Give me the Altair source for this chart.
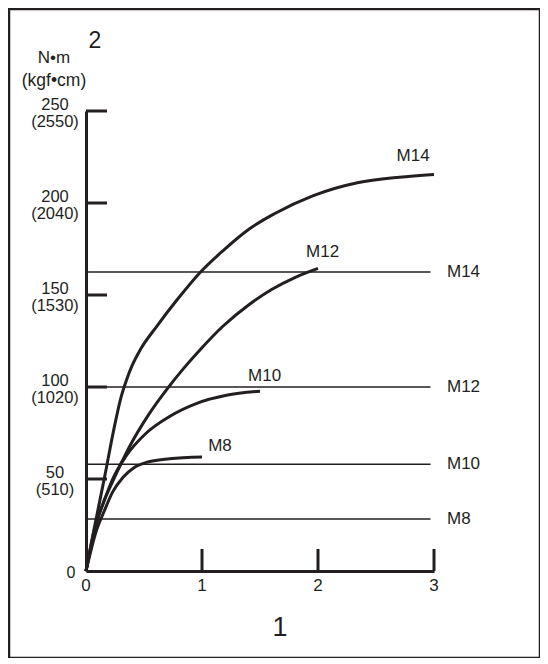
import altair as alt
import pandas as pd

INK = "#231f20"
FONT = "Liberation Sans"

# Curves (x: 1, y: 2 in N·m)
m8_x = [0, 0.08, 0.16, 0.23, 0.32, 0.41, 0.52, 0.72, 1.00]
m8_y = [0, 20, 33, 43, 51, 56, 59, 61, 62]
m10_x = [0, 0.07, 0.15, 0.23, 0.34, 0.52, 0.72, 0.95, 1.21, 1.50]
m10_y = [0, 22, 37, 50, 62, 75, 84, 91, 95.5, 97.7]
m12_x = [0, 0.10, 0.24, 0.37, 0.54, 0.70, 0.84, 0.98, 1.18, 1.41, 1.60, 1.80, 2.00]
m12_y = [0, 28, 50, 67, 85, 99, 110, 120, 133, 145, 153, 159.5, 164.5]
m14_x = [0, 0.08, 0.16, 0.24, 0.30, 0.35, 0.40, 0.47, 0.61, 0.78, 0.98, 1.18, 1.41,
         1.62, 1.96, 2.34, 2.70, 3.00]
m14_y = [0, 26, 51, 77, 94, 104, 112, 120.5, 133, 147, 162, 174, 186,
         194, 204, 211, 214, 215.5]

# Horizontal reference levels
level_names = ["M14", "M12", "M10", "M8"]
level_values = [162.5, 100, 58, 28.3]
level_x_end = 2.97

# Curve end labels
curve_label_names = ["M14", "M12", "M10", "M8"]
curve_label_x = [2.82, 2.04, 1.54, 1.155]
curve_label_y = [225.5, 173.4, 106, 68]

# Axis ticks / labels
y_ticks_nm = [50, 100, 150, 200, 250]
y_ticks_kgf = [510, 1020, 1530, 2040, 2550]
x_ticks = [1, 2, 3]
x_tick_labels = ["0", "1", "2", "3"]
x_tick_label_pos = [0, 1, 2, 3]

series = []
for name, xs_, ys_ in [("M8", m8_x, m8_y), ("M10", m10_x, m10_y),
                       ("M12", m12_x, m12_y), ("M14", m14_x, m14_y)]:
    for i, (a, b) in enumerate(zip(xs_, ys_)):
        series.append({"s": name, "x": a, "y": b, "o": i})
curves_df = pd.DataFrame(series)

levels_df = pd.DataFrame({"name": level_names, "y": level_values,
                          "x0": [0] * 4, "x1": [level_x_end] * 4,
                          "xl": [3.0] * 4})
clabels_df = pd.DataFrame({"name": curve_label_names, "x": curve_label_x,
                           "y": curve_label_y})
yt_df = pd.DataFrame({"y": y_ticks_nm,
                      "t": [f"{a}\n({b})" for a, b in zip(y_ticks_nm, y_ticks_kgf)]})
xt_df = pd.DataFrame({"x": x_ticks})
xl_df = pd.DataFrame({"x": x_tick_label_pos, "t": x_tick_labels})
one = pd.DataFrame({"a": [0]})

xs = alt.Scale(domain=[0, 3], nice=False, zero=False)
ys = alt.Scale(domain=[0, 250], nice=False, zero=False)
ax = dict(domain=True, domainWidth=3, domainColor=INK, ticks=False,
          labels=False, grid=False, title=None)

frame = alt.Chart(one).mark_rect(fillOpacity=0, stroke=INK, strokeWidth=2.5).encode(
    x=alt.value(-77), x2=alt.value(454), y=alt.value(-102), y2=alt.value(547))

curves = alt.Chart(curves_df).mark_line(color=INK, strokeWidth=3,
                                        interpolate="monotone").encode(
    x=alt.X("x:Q", scale=xs, axis=alt.Axis(**ax)),
    y=alt.Y("y:Q", scale=ys, axis=alt.Axis(**ax)),
    detail="s:N", order="o:Q")

levels = alt.Chart(levels_df).mark_rule(color=INK, strokeWidth=1.4).encode(
    x=alt.X("x0:Q", scale=xs), x2="x1:Q", y=alt.Y("y:Q", scale=ys))

level_labels = alt.Chart(levels_df).mark_text(
    align="left", baseline="middle", font=FONT, fontSize=17, color=INK, dx=13).encode(
    x=alt.X("xl:Q", scale=xs), y=alt.Y("y:Q", scale=ys), text="name:N")

curve_labels = alt.Chart(clabels_df).mark_text(
    align="center", baseline="middle", font=FONT, fontSize=17, color=INK).encode(
    x=alt.X("x:Q", scale=xs), y=alt.Y("y:Q", scale=ys), text="name:N")

yticks = alt.Chart(yt_df).mark_rule(color=INK, strokeWidth=3).encode(
    x=alt.value(0), x2=alt.value(21), y=alt.Y("y:Q", scale=ys))

ytick_labels = alt.Chart(yt_df).mark_text(
    align="center", baseline="middle", font=FONT, fontSize=16.5, color=INK,
    lineBreak="\n", lineHeight=16.5, dy=-6).encode(
    x=alt.value(-31), y=alt.Y("y:Q", scale=ys), text="t:N")

y0_label = alt.Chart(one).mark_text(
    align="center", baseline="middle", font=FONT, fontSize=16, color=INK).encode(
    x=alt.value(-15), y=alt.value(462), text=alt.value("0"))

xticks = alt.Chart(xt_df).mark_rule(color=INK, strokeWidth=3).encode(
    x=alt.X("x:Q", scale=xs), y=alt.value(460), y2=alt.value(438))

xtick_labels = alt.Chart(xl_df).mark_text(
    align="center", baseline="middle", font=FONT, fontSize=17, color=INK).encode(
    x=alt.X("x:Q", scale=xs), y=alt.value(475), text="t:N")

x_title = alt.Chart(one).mark_text(
    align="center", baseline="middle", font=FONT, fontSize=27, color=INK).encode(
    x=alt.value(194), y=alt.value(517), text=alt.value("1"))

y_title = alt.Chart(one).mark_text(
    align="center", baseline="middle", font=FONT, fontSize=23, color=INK).encode(
    x=alt.value(9), y=alt.value(-70), text=alt.value("2"))

unit1 = alt.Chart(one).mark_text(
    align="center", baseline="middle", font=FONT, fontSize=17, color=INK).encode(
    x=alt.value(-32), y=alt.value(-53), text=alt.value("N•m"))

unit2 = alt.Chart(one).mark_text(
    align="center", baseline="middle", font=FONT, fontSize=17.5, color=INK).encode(
    x=alt.value(-32), y=alt.value(-30), text=alt.value("(kgf•cm)"))

chart = alt.layer(
    frame, levels, curves, yticks, xticks, ytick_labels, y0_label, xtick_labels,
    curve_labels, level_labels, x_title, y_title, unit1, unit2
).properties(
    width=348, height=460, autosize="none",
    padding={"left": 78, "top": 103, "right": 106, "bottom": 87},
    background="white"
).configure_view(stroke=None)

chart.save("out.html", embed_options={"renderer": "svg", "actions": False})
